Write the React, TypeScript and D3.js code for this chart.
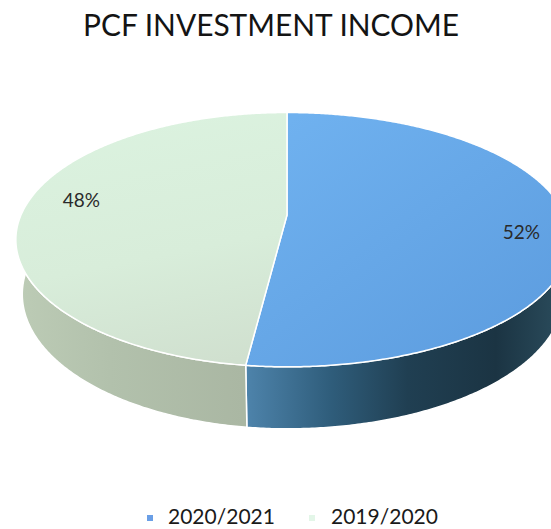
import React from "react";
import * as d3 from "d3";

const title = "PCF INVESTMENT INCOME";
const categories = ["2020/2021", "2019/2020"];
const values = [52, 48];
const labels = ["52%", "48%"];

const W = 551;
const H = 529;
const CX = 287;
const CY = 215;
const SCALE = 266;
const RIGHT_STRETCH = 1.045;
const SIN_A = 0.46;
const COS_A = Math.sqrt(1 - SIN_A * SIN_A);
const DIST = 4.58;
const HEIGHT = 0.233;

const topFill = ["url(#topBlue)", "url(#topGreen)"];
const wallFill = ["url(#wallBlue)", "url(#wallGreen)"];
const legendColors = ["#6a9fe6", "#e3f6e8"];
const labelNudge: [number, number][] = [
  [-1, 17],
  [2, -2],
];
const labelRadius = [0.84, 0.79];

function project(x: number, y: number, zf: number): [number, number] {
  const v = y * COS_A + zf * SIN_A;
  const w = DIST + zf * COS_A - y * SIN_A;
  const dx = (SCALE * DIST * x) / w;
  return [CX + (dx > 0 ? dx * RIGHT_STRETCH : dx), CY - (SCALE * DIST * v) / w];
}
function rim(theta: number, y: number, r = 1): [number, number] {
  return project(r * Math.sin(theta), y, r * Math.cos(theta));
}
function arcPts(a0: number, a1: number, y: number): [number, number][] {
  const n = Math.max(2, Math.ceil(Math.abs(a1 - a0) / (Math.PI / 360)));
  const pts: [number, number][] = [];
  for (let i = 0; i <= n; i++) pts.push(rim(a0 + ((a1 - a0) * i) / n, y));
  return pts;
}

export default function App() {
  const pie = d3
    .pie<number>()
    .sort(null)
    .startAngle(0)
    .endAngle(2 * Math.PI)(values);
  const line = d3.line();

  const walls = pie.map((p) => {
    const top = arcPts(p.startAngle, p.endAngle, 0);
    const bot = arcPts(p.endAngle, p.startAngle, -HEIGHT);
    return line([...top, ...bot]) + "Z";
  });
  const tops = pie.map((p) => {
    const c = project(0, 0, 0);
    return line([c, ...arcPts(p.startAngle, p.endAngle, 0)]) + "Z";
  });

  const legendX = [147, 309];
  const legendTextX = [168, 331];

  return (
    <svg
      width={W}
      height={H}
      style={{ position: "absolute", left: 0, top: 0, display: "block" }}
      fontFamily="Lato, 'Open Sans', sans-serif"
    >
      <defs>
        <linearGradient id="wallBlue" gradientUnits="userSpaceOnUse" x1={0} y1={0} x2={W} y2={0}>
          <stop offset="0.44" stopColor="#4f85ad" />
          <stop offset="0.6" stopColor="#2f5d7b" />
          <stop offset="0.74" stopColor="#203f52" />
          <stop offset="0.9" stopColor="#1b3443" />
          <stop offset="1" stopColor="#284858" />
        </linearGradient>
        <linearGradient id="wallGreen" gradientUnits="userSpaceOnUse" x1={0} y1={0} x2={W} y2={0}>
          <stop offset="0.02" stopColor="#bdccb6" />
          <stop offset="0.2" stopColor="#b2c1ac" />
          <stop offset="0.44" stopColor="#aab7a3" />
        </linearGradient>
        <linearGradient id="topBlue" gradientUnits="userSpaceOnUse" x1={300} y1={113} x2={480} y2={366}>
          <stop offset="0" stopColor="#6fb1ef" />
          <stop offset="1" stopColor="#5e9ee0" />
        </linearGradient>
        <linearGradient id="topGreen" gradientUnits="userSpaceOnUse" x1={150} y1={113} x2={200} y2={366}>
          <stop offset="0" stopColor="#dbf2df" />
          <stop offset="0.55" stopColor="#d8edda" />
          <stop offset="1" stopColor="#d0e0cf" />
        </linearGradient>
      </defs>

      <text
        x={271}
        y={36}
        textAnchor="middle"
        fontSize={30}
        fill="#141414"
        textLength={376}
        lengthAdjust="spacingAndGlyphs"
      >
        {title}
      </text>

      {walls.map((d, i) => (
        <path key={"w" + i} d={d} fill={wallFill[i]} stroke="#ffffff" strokeWidth={1.5} strokeLinejoin="round" />
      ))}
      {tops.map((d, i) => (
        <path key={"t" + i} d={d} fill={topFill[i]} stroke="#ffffff" strokeWidth={1.5} strokeLinejoin="round" />
      ))}

      {pie.map((p, i) => {
        const mid = (p.startAngle + p.endAngle) / 2;
        const [x, y] = rim(mid, 0, labelRadius[i]);
        return (
          <text
            key={"l" + i}
            x={x + labelNudge[i][0]}
            y={y + labelNudge[i][1]}
            textAnchor="middle"
            fontSize={19}
            fill="#2a2a2a"
          >
            {labels[i]}
          </text>
        );
      })}

      {categories.map((c, i) => (
        <g key={"lg" + i}>
          <rect x={legendX[i]} y={515} width={6} height={6} fill={legendColors[i]} />
          <text x={legendTextX[i]} y={524} fontSize={21} fill="#1a1a1a">
            {c}
          </text>
        </g>
      ))}
    </svg>
  );
}
